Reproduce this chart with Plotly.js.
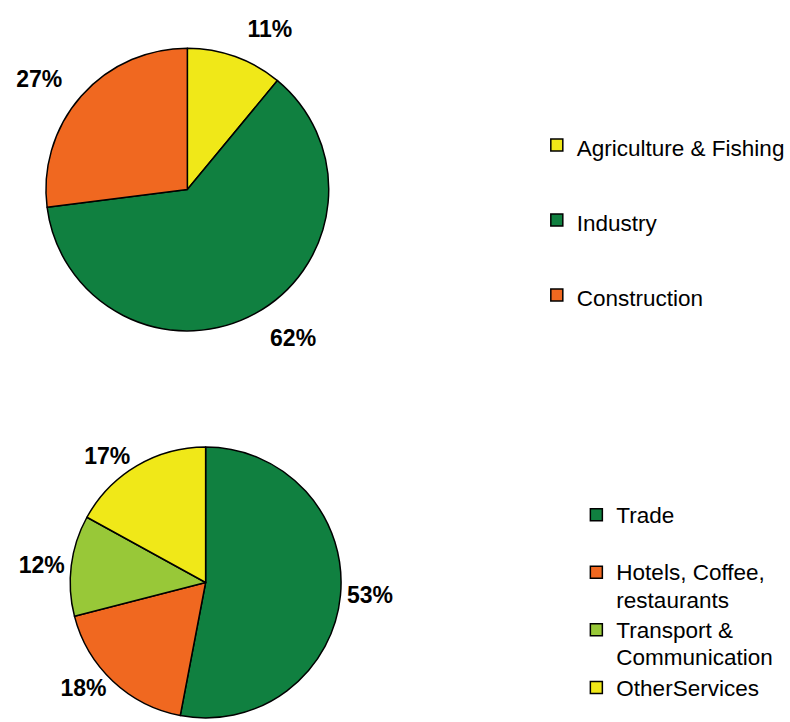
<!DOCTYPE html>
<html>
<head>
<meta charset="utf-8">
<script src="https://cdn.plot.ly/plotly-3.0.1.min.js"></script>
<style>
  html, body { margin: 0; padding: 0; background: #ffffff; }
  #chart { width: 790px; height: 722px; }
</style>
</head>
<body>
<div id="chart"></div>
<script>
// ---- Data ----
const topCategories = ['Agriculture & Fishing', 'Industry', 'Construction'];
const topValues = [11, 62, 27];
const topColors = ['#F0E818', '#108040', '#F06820'];

const bottomCategories = ['Trade', 'Hotels, Coffee,<br>restaurants', 'Transport &<br>Communication', 'OtherServices'];
const bottomValues = [53, 18, 12, 17];
const bottomColors = ['#108040', '#F06820', '#98C838', '#F0E818'];

// ---- Styling ----
const W = 790, H = 722;
const labelFont = { family: 'Liberation Sans, Arial, sans-serif', size: 23, color: '#000000', weight: 'bold' };
const legendTextSize = 22.5;

function domainFor(cx, cy, r) {
  return {
    x: [(cx - r) / W, (cx + r) / W],
    y: [1 - (cy + r) / H, 1 - (cy - r) / H]
  };
}

function sized(text) {
  return text.split('<br>').map(p => '<span style="font-size:' + legendTextSize + 'px">' + p + '</span>').join('<br>');
}

// top legend entries get an extra (blank) line for spacing
const topLegendLabels = topCategories.map(c => sized(c) + '<br> ');
const bottomLegendLabels = bottomCategories.map((c, i) => (i === 0 ? sized(c) + '<br> ' : sized(c)));

const lineStyle = { color: '#000000', width: 1.5 };

const traces = [
  {
    type: 'pie',
    labels: topLegendLabels,
    values: topValues,
    marker: { colors: topColors, line: lineStyle },
    sort: false,
    direction: 'clockwise',
    rotation: 0,
    textinfo: 'none',
    hoverinfo: 'label+percent',
    domain: domainFor(189.5, 189.5, 143),
    legend: 'legend'
  },
  {
    type: 'pie',
    labels: topCategories.map(c => 'lbl-' + c),
    values: topValues,
    marker: { colors: topValues.map(() => 'rgba(0,0,0,0)'), line: { width: 0 } },
    sort: false,
    direction: 'clockwise',
    rotation: 0,
    textinfo: 'percent',
    texttemplate: '%{percent:.0%}',
    textposition: 'outside',
    outsidetextfont: labelFont,
    hoverinfo: 'skip',
    showlegend: false,
    domain: domainFor(189.5, 189.5, 160)
  },
  {
    type: 'pie',
    labels: bottomLegendLabels,
    values: bottomValues,
    marker: { colors: bottomColors, line: lineStyle },
    sort: false,
    direction: 'clockwise',
    rotation: 0,
    textinfo: 'percent',
    texttemplate: '%{percent:.0%}',
    textposition: 'outside',
    outsidetextfont: labelFont,
    hoverinfo: 'label+percent',
    domain: domainFor(208, 582.5, 137),
    legend: 'legend2'
  }
];

const layout = {
  width: W,
  height: H,
  margin: { l: 0, r: 0, t: 0, b: 0 },
  paper_bgcolor: '#ffffff',
  plot_bgcolor: '#ffffff',
  font: { family: 'Liberation Sans, Arial, sans-serif', color: '#000000' },
  legend: {
    x: 543 / W, xanchor: 'left',
    y: 1 - 120.5 / H, yanchor: 'top',
    valign: 'top',
    font: { size: 27.7, color: '#000000', family: 'Liberation Sans, Arial, sans-serif' },
    bgcolor: 'rgba(0,0,0,0)',
    itemclick: false, itemdoubleclick: false
  },
  legend2: {
    x: 583 / W, xanchor: 'left',
    y: 1 - 494.5 / H, yanchor: 'top',
    valign: 'top',
    font: { size: 21, color: '#000000', family: 'Liberation Sans, Arial, sans-serif' },
    bgcolor: 'rgba(0,0,0,0)',
    itemclick: false, itemdoubleclick: false
  },
  showlegend: true
};

Plotly.newPlot('chart', traces, layout, { displayModeBar: false, staticPlot: true });
</script>
</body>
</html>
